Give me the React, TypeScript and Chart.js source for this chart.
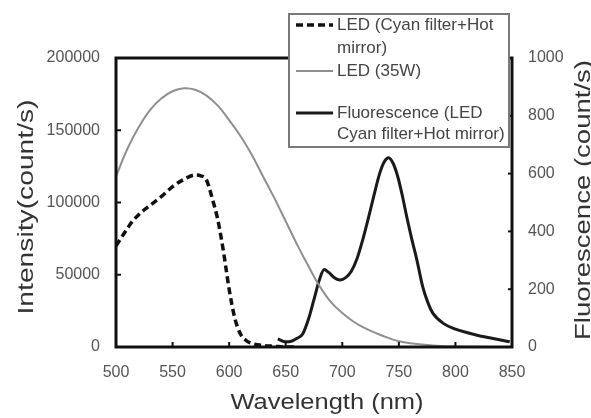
import React, { useEffect, useRef } from "react";
import { Chart, registerables } from "chart.js";

Chart.register(...registerables);

// ---- data ----
const ledCyanWavelengths = [500, 505, 510, 515, 520, 525, 530, 540, 550, 560, 570, 575, 580, 585, 590, 595, 600, 605, 610, 615, 620, 630, 640, 650, 660];
const ledCyanIntensity = [70000, 76000, 82000, 87500, 91500, 95000, 98000, 104000, 111000, 116000, 119000, 118500, 115500, 103000, 88000, 66000, 40000, 20000, 9000, 4500, 2500, 1000, 500, 0, 0];

const led35Wavelengths = [500, 510, 520, 530, 540, 550, 560, 570, 580, 590, 600, 610, 620, 630, 640, 650, 660, 670, 680, 690, 700, 710, 720, 730, 740, 750, 760, 780, 800, 850];
const led35Intensity = [118000, 137000, 152000, 164000, 172000, 177000, 179000, 178000, 174000, 167000, 157000, 146000, 133000, 118000, 103000, 87000, 71000, 56000, 42000, 31000, 23500, 17500, 13000, 9500, 6500, 4000, 2600, 1000, 300, 0];

const fluorWavelengths = [643, 650, 655, 660, 665, 670, 675, 680, 684, 688, 693, 698, 703, 708, 713, 718, 723, 728, 733, 737, 741, 745, 749, 753, 757, 761, 766, 771, 776, 780, 790, 800, 810, 820, 830, 840, 848];
const fluorCounts = [28, 18, 20, 30, 45, 95, 165, 235, 268, 258, 240, 232, 240, 262, 305, 370, 445, 525, 600, 640, 655, 635, 590, 525, 450, 380, 300, 210, 150, 117, 80, 62, 50, 40, 32, 24, 18];

const seriesNames = ["LED (Cyan filter+Hot mirror)", "LED (35W)", "Fluorescence (LED Cyan filter+Hot mirror)"];
const legendLines = [["LED (Cyan filter+Hot", "mirror)"], ["LED (35W)"], ["Fluorescence (LED", "Cyan filter+Hot mirror)"]];

const xTitle = "Wavelength (nm)";
const yTitle = "Intensity(count/s)";
const y1Title = "Fluorescence (count/s)";

const FONT = "'Liberation Sans', Arial, Helvetica, sans-serif";

function pts(xs: number[], ys: number[]) {
  return xs.map((x, i) => ({ x, y: ys[i] }));
}

const decorPlugin = {
  id: "decor",
  afterDraw(chart: any) {
    const { ctx, chartArea: a, scales } = chart;
    ctx.save();

    // inward tick marks
    ctx.strokeStyle = "#111";
    ctx.lineWidth = 2;
    const seg = (x1: number, y1: number, x2: number, y2: number) => {
      ctx.beginPath();
      ctx.moveTo(x1, y1);
      ctx.lineTo(x2, y2);
      ctx.stroke();
    };
    scales.x.ticks.forEach((t: any) => {
      const px = scales.x.getPixelForValue(t.value);
      seg(px, a.bottom, px, a.bottom - 5);
    });
    scales.y.ticks.forEach((t: any) => {
      const py = scales.y.getPixelForValue(t.value);
      seg(a.left, py, a.left + 5, py);
    });
    scales.y1.ticks.forEach((t: any) => {
      const py = scales.y1.getPixelForValue(t.value);
      seg(a.right, py, a.right - 4, py);
    });

    // frame
    ctx.lineWidth = 3;
    ctx.strokeStyle = "#111";
    ctx.strokeRect(a.left, a.top, a.right - a.left, a.bottom - a.top);

    // legend box
    const lx = 289, ly = 14, lw = 220, lh = 133;
    ctx.fillStyle = "#fff";
    ctx.fillRect(lx, ly, lw, lh);
    ctx.lineWidth = 2;
    ctx.strokeStyle = "#7a7a7a";
    ctx.strokeRect(lx, ly, lw, lh);

    const rows = [
      { y: 25, lines: legendLines[0], gap: 23 },
      { y: 71, lines: legendLines[1], gap: 23 },
      { y: 113, lines: legendLines[2], gap: 21 },
    ];
    ctx.font = `17px ${FONT}`;
    ctx.textBaseline = "middle";
    ctx.textAlign = "left";
    rows.forEach((r, i) => {
      const ds = chart.data.datasets[i];
      ctx.save();
      ctx.strokeStyle = ds.borderColor;
      ctx.lineWidth = ds.borderWidth;
      ctx.setLineDash(ds.borderDash || []);
      seg(296, r.y, 333, r.y);
      ctx.restore();
      ctx.fillStyle = "#444";
      r.lines.forEach((t: string, k: number) => {
        ctx.fillText(t, 337, r.y + k * r.gap);
      });
    });

    // axis titles (stretched to the reference's extents)
    ctx.fillStyle = "#333";
    ctx.font = `22px ${FONT}`;
    ctx.textAlign = "center";
    ctx.textBaseline = "alphabetic";
    const drawTitle = (text: string, cx: number, cy: number, rot: number, len: number) => {
      const w = ctx.measureText(text).width;
      ctx.save();
      ctx.translate(cx, cy);
      ctx.rotate(rot);
      ctx.scale(len / w, 1);
      ctx.fillText(text, 0, 0);
      ctx.restore();
    };
    drawTitle(xTitle, 327, 409, 0, 193);
    drawTitle(yTitle, 33, 207, -Math.PI / 2, 215);
    drawTitle(y1Title, 590, 200, -Math.PI / 2, 280);

    ctx.restore();
  },
};

export default function App() {
  const ref = useRef<HTMLCanvasElement | null>(null);

  useEffect(() => {
    if (!ref.current) return;
    const tickFont = { family: FONT, size: 16 };
    const chart = new Chart(ref.current, {
      type: "line",
      data: {
        datasets: [
          {
            label: seriesNames[0],
            data: pts(ledCyanWavelengths, ledCyanIntensity),
            borderColor: "#111",
            borderWidth: 3.5,
            borderDash: [7, 4],
            yAxisID: "y",
            pointRadius: 0,
            cubicInterpolationMode: "monotone",
          },
          {
            label: seriesNames[1],
            data: pts(led35Wavelengths, led35Intensity),
            borderColor: "#8f8f8f",
            borderWidth: 2,
            yAxisID: "y",
            pointRadius: 0,
            tension: 0.4,
          },
          {
            label: seriesNames[2],
            data: pts(fluorWavelengths, fluorCounts),
            borderColor: "#1a1a1a",
            borderWidth: 3,
            yAxisID: "y1",
            pointRadius: 0,
            cubicInterpolationMode: "monotone",
          },
        ],
      } as any,
      options: {
        animation: false,
        responsive: false,
        layout: { padding: { top: 58, left: 0, right: 0, bottom: 0 } },
        plugins: { legend: { display: false }, tooltip: { enabled: false } },
        scales: {
          x: {
            type: "linear",
            min: 500,
            max: 850,
            grid: { display: false, drawTicks: false },
            border: { display: false },
            ticks: {
              stepSize: 50,
              autoSkip: false,
              maxRotation: 0,
              padding: 16,
              color: "#555",
              font: tickFont,
              callback: (v: any) => String(v),
            },
            afterFit: (s: any) => {
              s.height = 71;
            },
          },
          y: {
            type: "linear",
            position: "left",
            min: 0,
            max: 200000,
            grid: { display: false, drawTicks: false },
            border: { display: false },
            ticks: {
              stepSize: 50000,
              padding: 16,
              color: "#555",
              font: tickFont,
              callback: (v: any) => String(v),
            },
            afterFit: (s: any) => {
              s.width = 116;
            },
          },
          y1: {
            type: "linear",
            position: "right",
            min: 0,
            max: 1000,
            grid: { display: false, drawTicks: false },
            border: { display: false },
            ticks: {
              stepSize: 200,
              padding: 16,
              color: "#555",
              font: tickFont,
              callback: (v: any) => String(v),
            },
            afterFit: (s: any) => {
              s.width = 79;
            },
          },
        },
      } as any,
      plugins: [decorPlugin],
    });
    return () => chart.destroy();
  }, []);

  return (
    <div style={{ position: "absolute", left: 0, top: 0, width: 591, height: 418, background: "#fff" }}>
      <canvas ref={ref} width={591} height={418} style={{ display: "block" }} />
    </div>
  );
}
